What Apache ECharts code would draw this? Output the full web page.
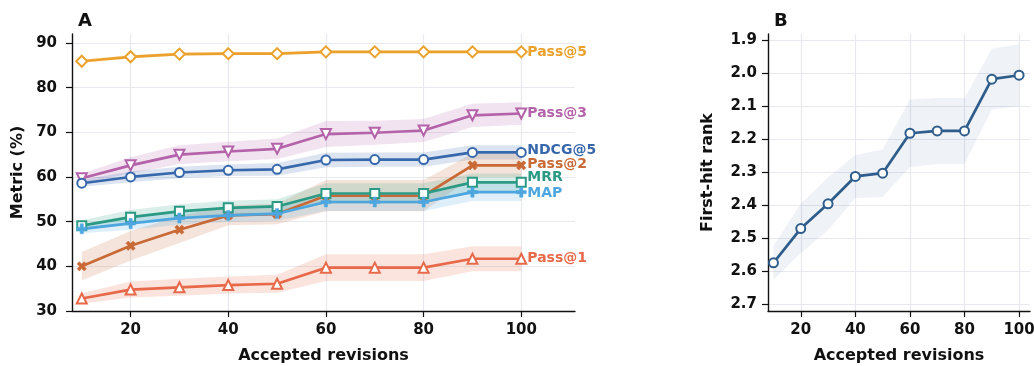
<!DOCTYPE html>
<html>
<head>
<meta charset="utf-8">
<script src="https://cdn.jsdelivr.net/npm/echarts@6/dist/echarts.min.js"></script>
<style>
  html, body { margin: 0; padding: 0; background: #fff; }
  #chart { width: 1034px; height: 366px; }
</style>
</head>
<body>
<div id="chart"></div>
<script>
// x values shared by both panels
const revisions = [10, 20, 30, 40, 50, 60, 70, 80, 90, 100];

// panel A: metric means and band half-widths (%)
const pass5 = [85.9, 86.9, 87.5, 87.6, 87.6, 88.0, 88.0, 88.0, 88.0, 88.0];
const pass5Err = [0.4, 0.4, 0.3, 0.3, 0.3, 0.3, 0.3, 0.3, 0.3, 0.3];
const pass3 = [59.7, 62.6, 65.0, 65.7, 66.3, 69.6, 69.9, 70.4, 73.8, 74.2];
const pass3Err = [1.0, 1.8, 2.1, 2.2, 2.3, 2.9, 2.7, 2.6, 2.6, 2.5];
const ndcg5 = [58.6, 60.0, 61.0, 61.5, 61.7, 63.8, 63.9, 63.9, 65.5, 65.5];
const ndcg5Err = [0.8, 1.2, 1.3, 1.3, 1.4, 1.6, 1.6, 1.6, 1.6, 1.6];
const pass2 = [40.0, 44.6, 48.2, 51.4, 51.7, 55.8, 55.8, 55.8, 62.6, 62.6];
const pass2Err = [3.2, 3.3, 3.0, 2.2, 2.3, 3.5, 3.5, 3.5, 2.6, 2.6];
const mrr = [49.1, 51.0, 52.3, 53.1, 53.4, 56.3, 56.3, 56.3, 58.8, 58.8];
const mrrErr = [1.2, 1.6, 1.6, 1.6, 1.6, 2.3, 2.3, 2.3, 2.0, 2.0];
const mapScore = [48.4, 49.6, 50.8, 51.4, 51.8, 54.4, 54.4, 54.4, 56.6, 56.6];
const mapErr = [1.0, 1.4, 1.5, 1.5, 1.6, 2.0, 2.0, 2.0, 2.0, 2.0];
const pass1 = [32.8, 34.8, 35.3, 35.8, 36.1, 39.7, 39.7, 39.7, 41.7, 41.7];
const pass1Err = [1.2, 1.8, 1.9, 1.9, 2.0, 3.0, 3.0, 3.0, 2.8, 2.8];

// panel B: mean first-hit rank and band half-width
const firstHitRank = [2.574, 2.470, 2.395, 2.312, 2.302, 2.181, 2.174, 2.174, 2.017, 2.005];
const firstHitErr = [0.052, 0.075, 0.08, 0.065, 0.072, 0.102, 0.1, 0.1, 0.092, 0.094];

// tick labels
const xTicks = [20, 40, 60, 80, 100];
const metricTicks = [30, 40, 50, 60, 70, 80, 90];
const rankTicks = [1.9, 2.0, 2.1, 2.2, 2.3, 2.4, 2.5, 2.6, 2.7];

const FONT = 'DejaVu Sans';
const PLUS = 'path://M3.4,0H6.6V3.4H10V6.6H6.6V10H3.4V6.6H0V3.4H3.4Z';

const metrics = [
  { name: 'Pass@5', values: pass5, err: pass5Err, color: '#eba12b', symbol: 'diamond', size: 11, open: true, dy: 0 },
  { name: 'Pass@3', values: pass3, err: pass3Err, color: '#b462a9', symbol: 'triangle', rotate: 180, size: 10, open: true, dy: 0 },
  { name: 'NDCG@5', values: ndcg5, err: ndcg5Err, color: '#3868ac', symbol: 'circle', size: 9, open: true, dy: -2 },
  { name: 'Pass@2', values: pass2, err: pass2Err, color: '#c96a36', symbol: PLUS, rotate: 45, size: 10, open: false, dy: -1 },
  { name: 'MRR', values: mrr, err: mrrErr, color: '#2a9a84', symbol: 'rect', size: 9, open: true, dy: -5 },
  { name: 'MAP', values: mapScore, err: mapErr, color: '#4da6df', symbol: PLUS, size: 10, open: false, dy: 1 },
  { name: 'Pass@1', values: pass1, err: pass1Err, color: '#e8694a', symbol: 'triangle', size: 10, open: true, dy: 0 }
];

function hexAlpha(hex, a) {
  const n = parseInt(hex.slice(1), 16);
  return `rgba(${(n >> 16) & 255},${(n >> 8) & 255},${n & 255},${a})`;
}

// shaded band between value - err and value + err, mapped through the axes
function bandSeries(values, err, color, alpha, axisIndex) {
  const rows = values.map((v, i) => [revisions[i], v - err[i], v + err[i]]);
  return {
    type: 'custom',
    xAxisIndex: axisIndex,
    yAxisIndex: axisIndex,
    silent: true,
    z: 1,
    encode: { x: 0, y: [1, 2] },
    data: rows,
    renderItem(params, api) {
      if (params.dataIndex !== 0) return null;
      const upper = rows.map(r => api.coord([r[0], r[2]]));
      const lower = rows.map(r => api.coord([r[0], r[1]])).reverse();
      return {
        type: 'polygon',
        shape: { points: upper.concat(lower) },
        style: { fill: hexAlpha(color, alpha) }
      };
    }
  };
}

const series = [];
metrics.forEach(m => {
  series.push(bandSeries(m.values, m.err, m.color, 0.18, 0));
});
metrics.forEach(m => {
  series.push({
    type: 'line',
    name: m.name,
    xAxisIndex: 0,
    yAxisIndex: 0,
    z: 3,
    data: m.values.map((v, i) => [revisions[i], v]),
    symbol: m.symbol,
    symbolSize: m.size,
    symbolRotate: m.rotate || 0,
    showAllSymbol: true,
    lineStyle: { color: m.color, width: 2.7 },
    itemStyle: m.open
      ? { color: '#fff', borderColor: m.color, borderWidth: 2 }
      : { color: m.color, borderColor: m.color, borderWidth: 0.5 },
    endLabel: {
      show: true,
      formatter: m.name,
      color: m.color,
      fontFamily: FONT,
      fontWeight: 'bold',
      fontSize: 14,
      distance: 6,
      offset: [0, m.dy]
    }
  });
});

series.push(bandSeries(firstHitRank, firstHitErr, '#2e5d8c', 0.08, 1));
series.push({
  type: 'line',
  name: 'First-hit rank',
  xAxisIndex: 1,
  yAxisIndex: 1,
  z: 3,
  data: firstHitRank.map((v, i) => [revisions[i], v]),
  symbol: 'circle',
  symbolSize: 9,
  showAllSymbol: true,
  lineStyle: { color: '#2e5d8c', width: 2.7 },
  itemStyle: { color: '#fff', borderColor: '#2e5d8c', borderWidth: 2 }
});

const axisLine = { show: true, lineStyle: { color: '#111', width: 1.4 } };
const labelStyle = { fontFamily: FONT, fontWeight: 'bold', fontSize: 15, color: '#111' };
const nameStyle = { fontFamily: FONT, fontWeight: 'bold', fontSize: 16, color: '#111' };
const gridLine = { show: true, lineStyle: { color: '#e7e9ef', width: 1.2 } };

function xAxis(gridIndex, max) {
  return {
    type: 'value',
    gridIndex,
    min: 8,
    max,
    name: 'Accepted revisions',
    nameLocation: 'middle',
    nameGap: 37,
    nameTextStyle: nameStyle,
    axisLine,
    axisTick: { show: true, length: 6, inside: false, customValues: xTicks, lineStyle: { color: '#111', width: 1.2 } },
    axisLabel: { ...labelStyle, margin: 12, customValues: xTicks },
    splitLine: gridLine
  };
}

const chart = echarts.init(document.getElementById('chart'), null, { renderer: 'canvas' });
chart.setOption({
  animation: false,
  backgroundColor: '#fff',
  title: [
    { text: 'A', left: 73, top: 7, textStyle: { fontFamily: FONT, fontWeight: 'bold', fontSize: 18, color: '#111' } },
    { text: 'B', left: 769, top: 7, textStyle: { fontFamily: FONT, fontWeight: 'bold', fontSize: 18, color: '#111' } }
  ],
  grid: [
    { left: 72, right: 459, top: 34, bottom: 55, containLabel: false, outerBoundsMode: 'none' },
    { left: 768, right: 4, top: 34, bottom: 55, containLabel: false, outerBoundsMode: 'none' }
  ],
  xAxis: [xAxis(0, 111), xAxis(1, 104)],
  yAxis: [
    {
      type: 'value',
      gridIndex: 0,
      min: 30,
      max: 92,
      name: 'Metric (%)',
      nameLocation: 'middle',
      nameGap: 46,
      nameTextStyle: nameStyle,
      axisLine,
      axisTick: { show: true, length: 6, customValues: metricTicks, lineStyle: { color: '#111', width: 1.2 } },
      axisLabel: { ...labelStyle, margin: 15, customValues: metricTicks },
      splitLine: gridLine
    },
    {
      type: 'value',
      gridIndex: 1,
      inverse: true,
      min: 1.88,
      max: 2.72,
      name: 'First-hit rank',
      nameLocation: 'middle',
      nameGap: 52,
      nameTextStyle: nameStyle,
      axisLine,
      axisTick: { show: true, length: 6, customValues: rankTicks, lineStyle: { color: '#111', width: 1.2 } },
      axisLabel: { ...labelStyle, margin: 11, customValues: rankTicks, formatter: v => v.toFixed(1) },
      splitLine: gridLine
    }
  ],
  series
});
</script>
</body>
</html>
